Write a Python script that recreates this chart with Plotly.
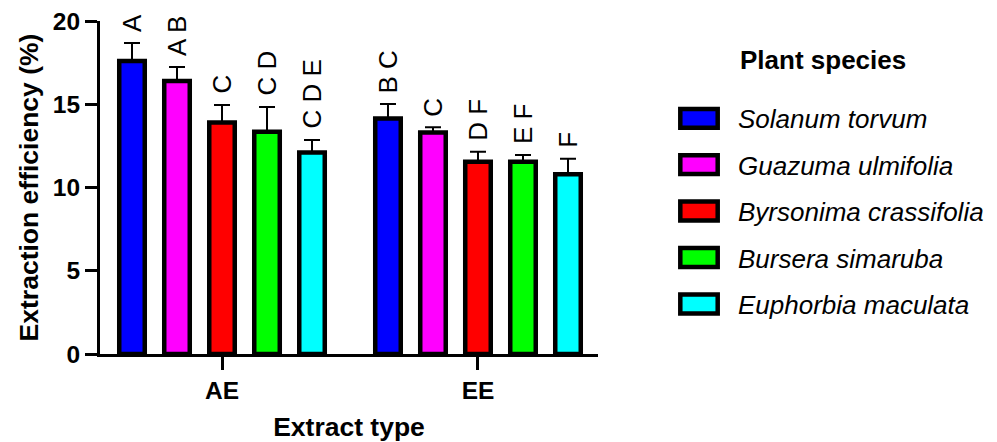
import plotly.graph_objects as go

# ---------------- data ----------------
extract_types = ["AE", "EE"]
species = ["Solanum torvum", "Guazuma ulmifolia", "Byrsonima crassifolia",
           "Bursera simaruba", "Euphorbia maculata"]
colors = ["#0000ff", "#ff00ff", "#ff0000", "#00ff00", "#00ffff"]

solanum_mean = [17.6, 14.15]
guazuma_mean = [16.4, 13.3]
byrsonima_mean = [13.9, 11.55]
bursera_mean = [13.35, 11.55]
euphorbia_mean = [12.1, 10.8]

solanum_err = [1.08, 0.86]
guazuma_err = [0.83, 0.32]
byrsonima_err = [1.06, 0.60]
bursera_err = [1.48, 0.40]
euphorbia_err = [0.75, 0.92]

solanum_letters = ["A", "B C"]
guazuma_letters = ["A B", "C"]
byrsonima_letters = ["C", "D F"]
bursera_letters = ["C D", "E F"]
euphorbia_letters = ["C D E", "F"]

y_ticks = [0, 5, 10, 15, 20]

means = [solanum_mean, guazuma_mean, byrsonima_mean, bursera_mean, euphorbia_mean]
errs = [solanum_err, guazuma_err, byrsonima_err, bursera_err, euphorbia_err]
letters = [solanum_letters, guazuma_letters, byrsonima_letters, bursera_letters, euphorbia_letters]

# ---------------- layout constants ----------------
OFF = 8  # page body margin
W, H = 997 - OFF, 442 - OFF
ML, MR, MT, MB = 100 - OFF, 399, 21 - OFF, 88
PW, PH = W - ML - MR, H - MT - MB
BARGAP = 0.121
BARGROUPGAP = 0.433
FONT = "Liberation Sans, Arial, Helvetica, sans-serif"


def px_x(p):
    return (p - OFF - ML) / PW


def px_y(p):
    return 1 - (p - OFF - MT) / PH


fig = go.Figure()
for name, col, m, e in zip(species, colors, means, errs):
    fig.add_trace(go.Bar(
        x=extract_types, y=m, name=name,
        marker=dict(color=col, line=dict(color="black", width=4.5)),
        error_y=dict(type="data", array=e, arrayminus=[0] * len(e),
                     symmetric=False, color="black", thickness=2, width=8),
        showlegend=False,
    ))

# significance letters above error bars
n = len(species)
slot = (1 - BARGAP) / n
annotations = []
for si in range(n):
    for gi, g in enumerate(extract_types):
        annotations.append(dict(
            x=gi + (si - (n - 1) / 2) * slot, y=means[si][gi] + errs[si][gi],
            xref="x", yref="y", text=letters[si][gi], showarrow=False,
            textangle=-90, xanchor="center", yanchor="bottom", yshift=9,
            font=dict(family=FONT, size=26, color="black"),
        ))

# custom legend
annotations.append(dict(
    x=px_x(738), y=px_y(60), xref="paper", yref="paper", text="<b>Plant species</b>",
    showarrow=False, xanchor="left", yanchor="middle",
    font=dict(family=FONT, size=26, color="black"),
))
shapes = []
item_y = [118.3, 164.7, 211.0, 257.5, 304.0]
for name, col, yc in zip(species, colors, item_y):
    shapes.append(dict(
        type="rect", xref="paper", yref="paper",
        x0=px_x(680.3), x1=px_x(717.7), y0=px_y(yc + 9.4), y1=px_y(yc - 9.4),
        fillcolor=col, line=dict(color="black", width=4.5),
    ))
    annotations.append(dict(
        x=px_x(736), y=px_y(yc + 1), xref="paper", yref="paper", text="<i>%s</i>" % name,
        showarrow=False, xanchor="left", yanchor="middle",
        font=dict(family=FONT, size=26, color="black"),
    ))

fig.update_layout(
    width=W, height=H,
    margin=dict(l=ML, r=MR, t=MT, b=MB, pad=0),
    paper_bgcolor="white", plot_bgcolor="white",
    barmode="group", bargap=BARGAP, bargroupgap=BARGROUPGAP,
    font=dict(family=FONT, color="black"),
    annotations=annotations, shapes=shapes,
    xaxis=dict(
        type="category", range=[-0.4766, 1.4688], automargin=False,
        showline=True, linecolor="black", linewidth=3,
        ticks="outside", ticklen=13, tickwidth=3, tickcolor="black",
        showgrid=False, zeroline=False, ticklabeloverflow="allow",
        tickfont=dict(family=FONT, size=24.5, color="black", weight="bold"),
        title=dict(text="<b>Extract type</b>", font=dict(family=FONT, size=26.5, color="black"),
                   standoff=15),
    ),
    yaxis=dict(
        range=[0, 20], tickvals=y_ticks, automargin=False,
        showline=True, linecolor="black", linewidth=3,
        ticks="outside", ticklen=12, tickwidth=3, tickcolor="black",
        showgrid=False, zeroline=False, ticklabeloverflow="allow",
        tickfont=dict(family=FONT, size=24.5, color="black", weight="bold"),
        title=dict(text="<b>Extraction efficiency (%)</b>",
                   font=dict(family=FONT, size=26.5, color="black"), standoff=7),
    ),
)

fig.write_html("out.html")
